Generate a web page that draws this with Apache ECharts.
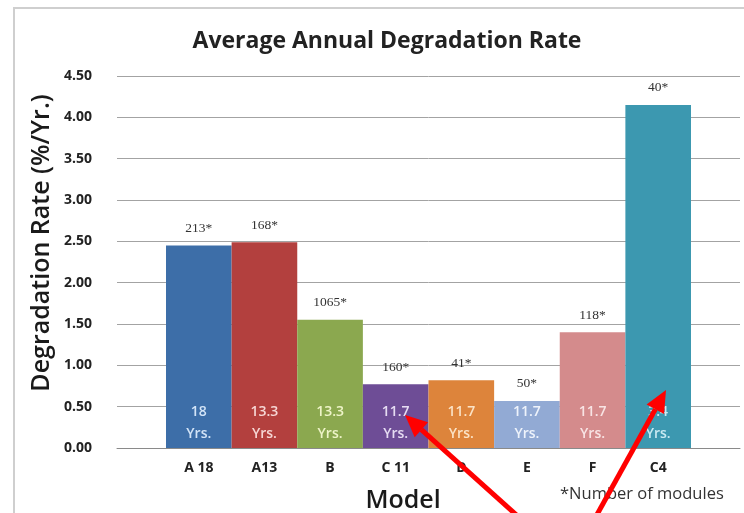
<!DOCTYPE html>
<html>
<head>
<meta charset="utf-8">
<script src="https://cdn.jsdelivr.net/npm/echarts@6/dist/echarts.min.js"></script>
<style>
  html, body { margin: 0; padding: 0; background: #ffffff; }
  #frame { position: absolute; left: 13px; top: 7px; width: 740px; height: 520px;
           border-top: 2px solid #cfcfcf; border-left: 2px solid #cfcfcf; }
  #chart { position: absolute; left: 0; top: 0; width: 744px; height: 513px; }
</style>
</head>
<body>
<div id="frame"></div>
<div id="chart"></div>
<script>
// ---- data ----
const models = ['A 18', 'A13', 'B', 'C 11', 'D', 'E', 'F', 'C4'];
const degradationRates = [2.45, 2.49, 1.55, 0.77, 0.82, 0.57, 1.40, 4.15];
const moduleCounts = [213, 168, 1065, 160, 41, 50, 118, 40];
const yearsInField = ['18', '13.3', '13.3', '11.7', '11.7', '11.7', '11.7', '3.4'];
const yMin = 0, yMax = 4.5, yStep = 0.5;

// ---- styles ----
const barColors = ['#3d6ea8', '#b3403e', '#8ba84f', '#6e4d96', '#dd843b', '#92aad4', '#d48b8c', '#3c98b0'];
const innerLabelColors = ['#d3e4f7', '#f6d6d4', '#eef4c8', '#e6dcf2', '#fbe3c6', '#eef3fb', '#f8e4e4', '#c9eaf2'];

const chart = echarts.init(document.getElementById('chart'), null, { renderer: 'canvas' });

function arrow(x1, y1, x2, y2) {
  const ang = Math.atan2(y2 - y1, x2 - x1);
  const len = 22, half = 10;
  const bx = x2 - len * Math.cos(ang), by = y2 - len * Math.sin(ang);
  const px = -Math.sin(ang), py = Math.cos(ang);
  return [
    { type: 'line', shape: { x1: x1, y1: y1, x2: bx, y2: by },
      style: { stroke: '#ff0000', lineWidth: 5 }, z: 100 },
    { type: 'polygon', shape: { points: [[x2, y2], [bx + px * half, by + py * half], [bx - px * half, by - py * half]] },
      style: { fill: '#ff0000' }, z: 100 }
  ];
}

const option = {
  backgroundColor: 'transparent',
  animation: false,
  title: [
    { text: 'Average Annual Degradation Rate', left: 382, top: 25, textAlign: 'center',
      textStyle: { fontFamily: 'Open Sans', fontWeight: 700, fontSize: 23, color: '#222' } },
    { text: 'Model', left: 398, top: 483, textAlign: 'center',
      textStyle: { fontFamily: 'Open Sans', fontWeight: 600, fontSize: 25, color: '#1a1a1a' } },
    { text: '*Number of modules', left: 555, top: 481,
      textStyle: { fontFamily: 'Open Sans', fontWeight: 400, fontSize: 16.5, color: '#333' } }
  ],
  grid: [
    { left: 117, right: 4, top: 76, bottom: 65 },
    { left: 166, right: 53, top: 76, bottom: 65 }
  ],
  xAxis: [
    { gridIndex: 0, type: 'value', min: 0, max: 1, show: true,
      axisLine: { show: true, lineStyle: { color: '#8a8a8a', width: 1 } },
      axisTick: { show: false }, axisLabel: { show: false }, splitLine: { show: false } },
    { gridIndex: 1, type: 'category', data: models,
      axisLine: { show: false }, axisTick: { show: false },
      axisLabel: { margin: 13, fontFamily: 'Open Sans', fontWeight: 700, fontSize: 14, color: '#222' } }
  ],
  yAxis: [
    { gridIndex: 0, type: 'value', min: yMin, max: yMax, interval: yStep,
      axisLine: { show: false }, axisTick: { show: false },
      axisLabel: { margin: 25, formatter: v => v.toFixed(2),
        fontFamily: 'Open Sans', fontWeight: 700, fontSize: 14, color: '#222' },
      splitLine: { show: true, lineStyle: { color: '#a3a3a3', width: 1 } } },
    { gridIndex: 1, type: 'value', min: yMin, max: yMax, interval: yStep, show: false }
  ],
  series: [
    { type: 'bar', xAxisIndex: 1, yAxisIndex: 1, barCategoryGap: '0%', barGap: '-100%',
      data: degradationRates.map((v, i) => ({ value: v, itemStyle: { color: barColors[i] } })),
      label: { show: true, position: 'top', distance: 10,
        formatter: p => moduleCounts[p.dataIndex] + '*',
        fontFamily: 'Liberation Serif', fontSize: 13.5, color: '#333' } },
    { type: 'bar', xAxisIndex: 1, yAxisIndex: 1, barCategoryGap: '0%', barGap: '-100%',
      data: degradationRates.map((v, i) => ({ value: v,
        label: { color: innerLabelColors[i] } })),
      itemStyle: { color: 'rgba(0,0,0,0)' },
      label: { show: true, position: 'insideBottom', distance: 3,
        formatter: p => yearsInField[p.dataIndex] + '\nYrs.',
        fontFamily: 'Open Sans', fontWeight: 600, fontSize: 14, lineHeight: 22 } }
  ],
  graphic: [
    { type: 'text', x: 42, y: 243, rotation: Math.PI / 2,
      style: { text: 'Degradation Rate (%/Yr.)', fontFamily: 'Open Sans', fontWeight: 600, fontSize: 25,
        fill: '#1a1a1a', textAlign: 'center', textVerticalAlign: 'middle' } },
    ...arrow(522, 520, 405, 415),
    ...arrow(594, 520, 666, 390)
  ]
};
chart.setOption(option);
</script>
</body>
</html>
